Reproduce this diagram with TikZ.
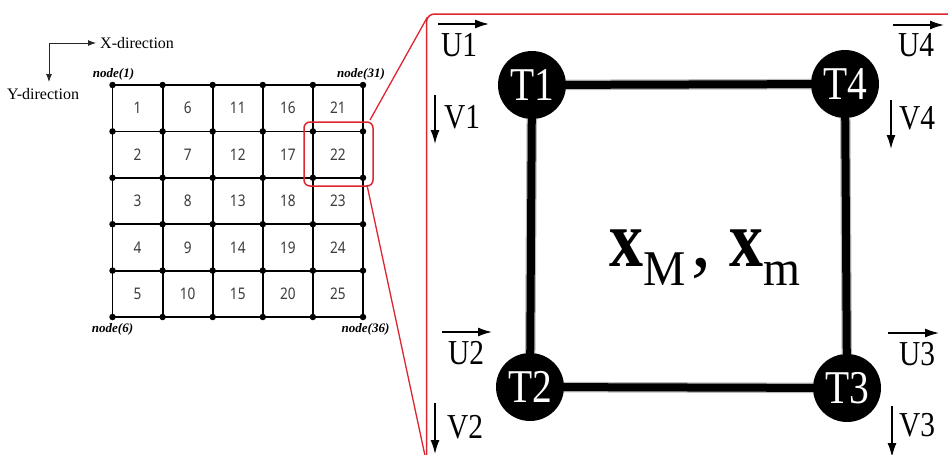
\documentclass[tikz,border=0pt]{standalone}
\usepackage{fontspec}
\setmainfont{Liberation Serif}
\newfontfamily\gridfont{Noto Sans}
\usetikzlibrary{arrows.meta}
\definecolor{framered}{RGB}{222,38,48}
\definecolor{numgray}{RGB}{60,60,60}
\newcommand\hsq[2][0.84]{\scalebox{#1}[1]{#2}}
\begin{document}
\begin{tikzpicture}[x=1pt,y=-1pt,
  gridline/.style={line width=1.8pt,black},
  griddot/.style={circle,fill=black,inner sep=0pt,minimum size=6.5pt},
  cellnum/.style={font=\gridfont\fontsize{16}{16}\selectfont,text=numgray,inner sep=0pt},
  nodelabel/.style={font=\bfseries\itshape\fontsize{13}{14}\selectfont,inner sep=0pt},
  dirlabel/.style={font=\fontsize{16}{16}\selectfont,inner sep=0pt},
  dirarrow/.style={line width=0.9pt,black!85,-{Latex[length=8pt,width=6pt]}},
  zoombox/.style={framered,line width=1.5pt,rounded corners=6pt},
  zoomline/.style={framered,line width=1.3pt},
  tnode/.style={circle,fill=black,inner sep=0pt,minimum size=68pt,text=white,font=\fontsize{47}{47}\selectfont},
  memberhalo/.style={gray!55,line width=10.5pt},
  membercore/.style={black,line width=8pt},
  dofarrow/.style={line width=1.5pt,black,-{Latex[length=14pt,width=9pt]}},
  doflabel/.style={font=\fontsize{35}{35}\selectfont,inner sep=0pt},
]
\useasboundingbox[fill=white] (0,0) rectangle (948,455);

% ---------- left panel: direction arrows ----------
\coordinate (dcorner) at (49,43);
\coordinate (dxtip) at (96,43);
\coordinate (dytip) at (49,82);
\draw[dirarrow] (dcorner) -- (dxtip);
\draw[dirarrow] (dcorner) -- (dytip);
\node[dirlabel,anchor=west] (xdir) at (100,43) {X-direction};
\node[dirlabel] (ydir) at (43,94) {Y-direction};

% ---------- left panel: mesh ----------
\foreach \i in {0,...,5}{\foreach \j in {0,...,5}{
  \coordinate (g\i\j) at ({112.5+50.1*\i},{85+46.4*\j});}}
\foreach \i in {0,...,5}{
  \draw[gridline] (g\i0) -- (g\i5);
  \draw[gridline] (g0\i) -- (g5\i);}
\foreach \i in {0,...,5}{\foreach \j in {0,...,5}{
  \node[griddot] (d\i\j) at (g\i\j) {};}}
\foreach \i in {0,...,4}{\foreach \j in {0,...,4}{
  \pgfmathtruncatemacro\cellno{5*\i+\j+1}
  \node[cellnum] (c\cellno) at ({112.5+50.1*(\i+0.5)},{85+46.4*(\j+0.5)}) {\hsq[0.85]{\cellno}};}}

\node[nodelabel] (n1) at (113.5,74) {node(1)};
\node[nodelabel] (n31) at (361,74) {node(31)};
\node[nodelabel] (n6) at (112.5,329) {node(6)};
\node[nodelabel] (n36) at (365.5,329) {node(36)};

% ---------- zoom marker ----------
\draw[zoombox] (304,122) rectangle (373,186);
\coordinate (zbtr) at (370,120);
\coordinate (zbbr) at (367,185);
\coordinate (fcorner) at (427.5,17);
\coordinate (fbottom) at (425.5,458);
\draw[zoomline] (zbtr) -- (fcorner);
\draw[zoomline] (zbbr) -- (fbottom);
\draw[zoombox,rounded corners=8pt] (426.5,460) -- (426.5,14) -- (952,14);

% ---------- right panel: element ----------
\node[tnode] (T1) at (532,85) {\hsq{T1}};
\node[tnode] (T4) at (845,84) {\hsq{T4}};
\node[tnode] (T2) at (530,387) {\hsq{T2}};
\node[tnode] (T3) at (847,388) {\hsq{T3}};
\foreach \a/\b in {T1/T4,T4/T3,T3/T2,T2/T1}{
  \draw[memberhalo] (\a) -- (\b);
  \draw[membercore] (\a) -- (\b);}

\node[inner sep=0pt] (xmm) at (705,258)
  {\hsq[0.85]{\fontsize{80}{80}\selectfont\textbf{x}}\raisebox{-19pt}{\hsq[0.95]{\fontsize{50}{50}\selectfont M}}\hspace{6pt}{\fontsize{80}{80}\selectfont,}\hspace{18pt}\hsq[0.85]{\fontsize{80}{80}\selectfont\textbf{x}}\raisebox{-19pt}{\hsq[0.95]{\fontsize{50}{50}\selectfont m}}};

% ---------- degrees of freedom ----------
\node[doflabel] (U1) at (459,45) {\hsq{U1}};
\node[doflabel] (V1) at (462,117) {\hsq{V1}};
\node[doflabel] (U4) at (916,45) {\hsq{U4}};
\node[doflabel] (V4) at (917,118) {\hsq{V4}};
\node[doflabel] (U2) at (466,353) {\hsq{U2}};
\node[doflabel] (V2) at (465,427) {\hsq{V2}};
\node[doflabel] (U3) at (917,354) {\hsq{U3}};
\node[doflabel] (V3) at (917,425) {\hsq{V3}};

\coordinate (u1s) at (438,24);  \coordinate (u1e) at (489,24);
\coordinate (u4s) at (893,25);  \coordinate (u4e) at (944,25);
\coordinate (u2s) at (442,332); \coordinate (u2e) at (492,332);
\coordinate (u3s) at (888,333); \coordinate (u3e) at (939,333);
\coordinate (v1s) at (435,95);  \coordinate (v1e) at (435,144);
\coordinate (v4s) at (891,100); \coordinate (v4e) at (891,149);
\coordinate (v2s) at (435,403); \coordinate (v2e) at (435,454);
\coordinate (v3s) at (892,406); \coordinate (v3e) at (892,457);
\foreach \s/\e in {u1s/u1e,u4s/u4e,u2s/u2e,u3s/u3e,v1s/v1e,v4s/v4e,v2s/v2e,v3s/v3e}{
  \draw[dofarrow] (\s) -- (\e);}
\end{tikzpicture}
\end{document}
